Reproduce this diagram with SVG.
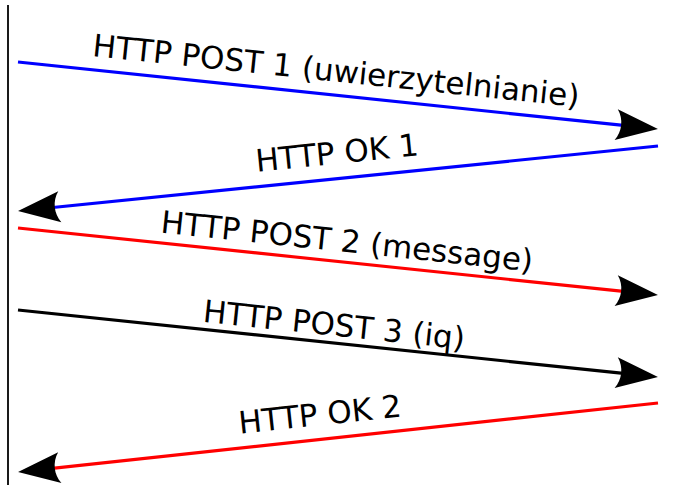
<svg xmlns="http://www.w3.org/2000/svg" width="675" height="489" viewBox="0 0 675 489">
<style>
.lbl{font-family:"DejaVu Sans",sans-serif;font-size:31px;fill:#000;text-anchor:middle}
.msg{fill:none;stroke-width:3.2}
</style>
<defs>
<marker id="arr" markerUnits="userSpaceOnUse" viewBox="-70 -20 75 40" markerWidth="75" markerHeight="40" refX="-25" refY="0" orient="auto" overflow="visible">
<path d="M0,0 L-42,-15.5 C-35.3,-6.2 -35.3,6.2 -42,15.5 Z" fill="#000"/>
</marker>
</defs>
<g id="lifeline">
<line x1="8" y1="5" x2="8" y2="485" stroke="#1a1a1a" stroke-width="2"/>
</g>
<g id="connectors">
<line class="msg" x1="18" y1="62" x2="633.1" y2="126.4" stroke="#0000ff" marker-end="url(#arr)"/>
<line class="msg" x1="658" y1="146" x2="42.9" y2="208.5" stroke="#0000ff" marker-end="url(#arr)"/>
<line class="msg" x1="18" y1="228" x2="633.1" y2="292.4" stroke="#ff0000" marker-end="url(#arr)"/>
<line class="msg" x1="18" y1="310" x2="633.1" y2="374.4" stroke="#000000" marker-end="url(#arr)"/>
<line class="msg" x1="658" y1="403" x2="42.9" y2="469.4" stroke="#ff0000" marker-end="url(#arr)"/>
</g>
<g id="label1"><text class="lbl" transform="translate(335,81.5) rotate(5.98)">HTTP POST 1 (uwierzytelnianie)</text></g>
<g id="label2"><text class="lbl" transform="translate(338,163.5) rotate(-5.8)">HTTP OK 1</text></g>
<g id="label3"><text class="lbl" transform="translate(346,252) rotate(5.98)">HTTP POST 2 (message)</text></g>
<g id="label4"><text class="lbl" transform="translate(333,335.5) rotate(5.98)">HTTP POST 3 (iq)</text></g>
<g id="label5"><text class="lbl" transform="translate(321,425) rotate(-6.06)">HTTP OK 2</text></g>
</svg>
